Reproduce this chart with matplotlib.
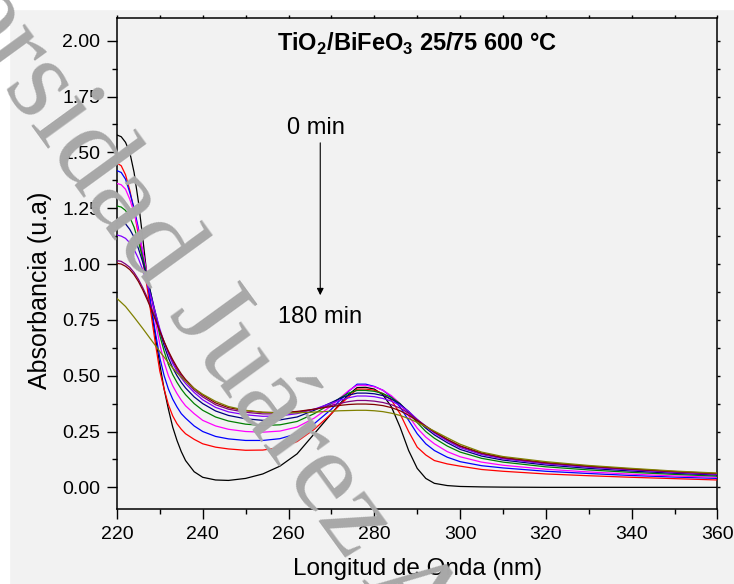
import matplotlib
matplotlib.use("Agg")
import matplotlib.pyplot as plt
from matplotlib.patches import Rectangle
from matplotlib.ticker import MultipleLocator, FormatStrFormatter

plt.rcParams['font.family'] = ['Liberation Sans', 'DejaVu Sans']
plt.rcParams['mathtext.fontset'] = 'custom'
plt.rcParams['mathtext.rm'] = 'Liberation Sans'
plt.rcParams['mathtext.bf'] = 'Liberation Sans:bold'

# wavelength grid (nm) and absorbance per sampling time
wl = [220, 221, 222, 223, 224, 225, 226, 227, 228, 229, 230, 231, 232, 233, 234, 235, 236,
      238, 240, 243, 246, 250, 254, 258, 262, 266, 270, 272, 274, 276, 278, 280, 282, 284,
      286, 288, 290, 292, 294, 297, 300, 305, 310, 320, 330, 340, 350, 360]

abs_0 = [1.578, 1.57, 1.545, 1.50, 1.41, 1.28, 1.12, 0.95, 0.80, 0.67, 0.55, 0.44, 0.35, 0.27, 0.21, 0.16, 0.12,
         0.07, 0.045, 0.033, 0.031, 0.04, 0.06, 0.095, 0.15, 0.24, 0.33, 0.375, 0.415, 0.447, 0.448, 0.44, 0.415, 0.36,
         0.27, 0.165, 0.085, 0.04, 0.018, 0.008, 0.004, 0.002, 0.001, 0.0, 0.0, 0.0, 0.0, 0.0]
abs_20 = [1.452, 1.44, 1.40, 1.33, 1.24, 1.13, 1.02, 0.90, 0.77, 0.64, 0.52, 0.44, 0.37, 0.32, 0.285, 0.26, 0.24,
          0.215, 0.195, 0.18, 0.172, 0.166, 0.167, 0.178, 0.205, 0.26, 0.33, 0.37, 0.405, 0.44, 0.44, 0.435, 0.42, 0.39,
          0.33, 0.25, 0.18, 0.145, 0.12, 0.105, 0.095, 0.08, 0.072, 0.06, 0.052, 0.045, 0.039, 0.033]
abs_40 = [1.418, 1.41, 1.38, 1.32, 1.25, 1.16, 1.05, 0.93, 0.81, 0.69, 0.58, 0.50, 0.44, 0.395, 0.36, 0.33, 0.31,
          0.275, 0.25, 0.228, 0.217, 0.21, 0.21, 0.218, 0.24, 0.285, 0.35, 0.39, 0.43, 0.462, 0.462, 0.452, 0.435, 0.405,
          0.36, 0.30, 0.24, 0.195, 0.165, 0.135, 0.115, 0.097, 0.087, 0.072, 0.062, 0.053, 0.046, 0.04]
abs_60 = [1.361, 1.355, 1.335, 1.29, 1.23, 1.15, 1.06, 0.96, 0.85, 0.74, 0.64, 0.56, 0.50, 0.455, 0.42, 0.39, 0.365,
          0.33, 0.30, 0.275, 0.26, 0.25, 0.247, 0.252, 0.27, 0.31, 0.365, 0.40, 0.433, 0.457, 0.457, 0.45, 0.435, 0.41,
          0.375, 0.32, 0.265, 0.225, 0.195, 0.16, 0.137, 0.113, 0.099, 0.081, 0.069, 0.059, 0.051, 0.045]
abs_80 = [1.26, 1.255, 1.24, 1.21, 1.165, 1.10, 1.03, 0.95, 0.86, 0.77, 0.68, 0.61, 0.55, 0.505, 0.47, 0.44, 0.415,
          0.375, 0.345, 0.315, 0.297, 0.283, 0.277, 0.28, 0.295, 0.33, 0.375, 0.40, 0.422, 0.434, 0.434, 0.43, 0.42, 0.402,
          0.375, 0.335, 0.29, 0.25, 0.22, 0.185, 0.158, 0.13, 0.113, 0.092, 0.078, 0.067, 0.058, 0.05]
abs_100 = [1.194, 1.19, 1.18, 1.155, 1.12, 1.07, 1.01, 0.94, 0.86, 0.78, 0.70, 0.635, 0.58, 0.535, 0.50, 0.47, 0.445,
           0.405, 0.375, 0.342, 0.322, 0.307, 0.30, 0.302, 0.315, 0.345, 0.38, 0.398, 0.413, 0.422, 0.422, 0.419, 0.411, 0.395,
           0.373, 0.34, 0.30, 0.265, 0.235, 0.20, 0.17, 0.14, 0.122, 0.10, 0.085, 0.073, 0.063, 0.055]
abs_120 = [1.13, 1.125, 1.115, 1.095, 1.065, 1.025, 0.975, 0.915, 0.85, 0.78, 0.71, 0.65, 0.60, 0.555, 0.52, 0.49, 0.465,
           0.425, 0.392, 0.358, 0.338, 0.325, 0.318, 0.32, 0.33, 0.35, 0.377, 0.39, 0.401, 0.409, 0.409, 0.406, 0.398, 0.386,
           0.367, 0.34, 0.305, 0.272, 0.243, 0.208, 0.178, 0.147, 0.128, 0.105, 0.09, 0.078, 0.067, 0.058]
abs_140 = [1.015, 1.012, 1.00, 0.985, 0.962, 0.932, 0.895, 0.853, 0.805, 0.755, 0.70, 0.65, 0.605, 0.565, 0.53, 0.50, 0.475,
           0.435, 0.405, 0.37, 0.35, 0.336, 0.329, 0.329, 0.336, 0.35, 0.367, 0.376, 0.384, 0.389, 0.389, 0.386, 0.38, 0.37,
           0.355, 0.332, 0.303, 0.275, 0.248, 0.213, 0.183, 0.151, 0.131, 0.108, 0.093, 0.08, 0.069, 0.06]
abs_160 = [1.003, 1.0, 0.99, 0.975, 0.952, 0.922, 0.885, 0.843, 0.797, 0.749, 0.70, 0.653, 0.61, 0.572, 0.538, 0.508, 0.483,
           0.443, 0.413, 0.378, 0.357, 0.343, 0.336, 0.335, 0.34, 0.35, 0.362, 0.367, 0.371, 0.373, 0.373, 0.371, 0.366, 0.357,
           0.343, 0.323, 0.298, 0.273, 0.248, 0.215, 0.186, 0.154, 0.134, 0.111, 0.095, 0.082, 0.071, 0.062]
abs_180 = [0.846, 0.828, 0.81, 0.786, 0.762, 0.737, 0.712, 0.686, 0.66, 0.634, 0.608, 0.583, 0.558, 0.535, 0.513, 0.493, 0.475,
           0.443, 0.417, 0.385, 0.362, 0.345, 0.336, 0.333, 0.334, 0.337, 0.341, 0.343, 0.344, 0.345, 0.345, 0.343, 0.339, 0.332,
           0.322, 0.308, 0.291, 0.272, 0.252, 0.222, 0.193, 0.158, 0.138, 0.115, 0.098, 0.085, 0.073, 0.064]

series = [abs_0, abs_20, abs_40, abs_60, abs_80, abs_100, abs_120, abs_140, abs_160, abs_180]
colors = ['#000000', '#ff0000', '#0000ff', '#ff00ff', '#008000',
          '#000080', '#8000ff', '#800080', '#800000', '#808000']

fig = plt.figure(figsize=(7.34, 5.84), dpi=100, facecolor='#f2f2f2')
fig.patches.append(Rectangle((0, 1 - 9 / 584), 1, 9 / 584, transform=fig.transFigure,
                             color='white', zorder=-5))
fig.patches.append(Rectangle((0, 0), 9 / 734, 1, transform=fig.transFigure,
                             color='white', zorder=-5))

# watermark
fig.text(-0.263, 1.312, 'Universidad Juárez Autónoma de Tabasco', rotation=-54,
         rotation_mode='anchor', ha='left', va='baseline', fontsize=86,
         family='Liberation Serif', color='#a8a8a8', zorder=0)

ax = fig.add_axes([0.1593, 0.1284, 0.8182, 0.8413])
ax.set_facecolor('none')

for y, c in zip(series, colors):
    ax.plot(wl, y, color=c, lw=0.9, zorder=3)

ax.set_xlim(220, 360)
ax.set_ylim(-0.097, 2.103)
ax.xaxis.set_major_locator(MultipleLocator(20))
ax.xaxis.set_minor_locator(MultipleLocator(10))
ax.yaxis.set_major_locator(MultipleLocator(0.25))
ax.yaxis.set_minor_locator(MultipleLocator(0.125))
ax.yaxis.set_major_formatter(FormatStrFormatter('%.2f'))

for s in ax.spines.values():
    s.set_linewidth(1.1)
ax.tick_params(which='major', direction='out', length=7, width=1.0, labelsize=14, pad=5)
ax.tick_params(which='minor', direction='out', length=3.6, width=1.0)
ax.tick_params(which='both', top=True, right=True)
for t in ax.xaxis.get_ticklines(minor=False)[1::2] + ax.xaxis.get_ticklines(minor=True)[1::2]:
    t.set_markersize(2)
for t in ax.yaxis.get_ticklines(minor=False)[1::2] + ax.yaxis.get_ticklines(minor=True)[1::2]:
    t.set_markersize(2)

ax.set_xlabel('Longitud de Onda (nm)', fontsize=17.5)
ax.xaxis.set_label_coords(0.5, -0.100)
ax.set_ylabel('Absorbancia (u.a)', fontsize=18)
ax.yaxis.set_label_coords(-0.108, 0.446)

ax.text(0.5, 0.947, r'TiO$_\mathbf{2}$/BiFeO$_\mathbf{3}$ 25/75 600 °C', transform=ax.transAxes,
        ha='center', va='center', fontsize=17, fontweight='bold')

ax.annotate('', xy=(267.4, 0.848), xytext=(267.4, 1.555),
            arrowprops=dict(arrowstyle='-|>', color='black', lw=0.8, mutation_scale=10))
ax.text(266.4, 1.609, '0 min', ha='center', va='center', fontsize=17)
ax.text(267.4, 0.763, '180 min', ha='center', va='center', fontsize=17)

fig.savefig('out.png', dpi=100, facecolor=fig.get_facecolor())
